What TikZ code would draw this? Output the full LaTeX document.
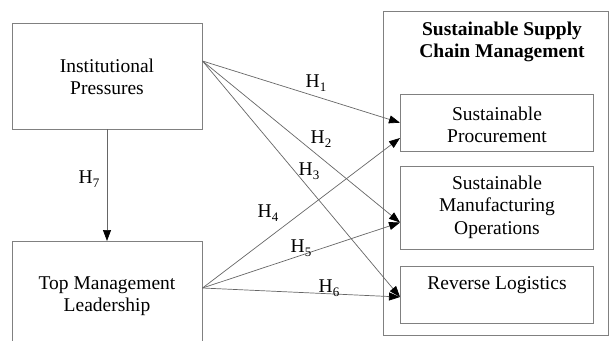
\documentclass[tikz,border=0pt]{standalone}
\usepackage{fontspec}
\setmainfont{Liberation Serif}
\usetikzlibrary{arrows.meta}
\newcommand{\hyp}[1]{H\raisebox{-4pt}{\fontsize{13}{13}\selectfont #1}}
\begin{document}
\begin{tikzpicture}[x=1pt,y=-1pt,
  box/.style={draw=black!50, line width=0.8pt, rectangle, inner sep=0pt},
  txt/.style={align=center, font=\fontsize{19.5}{22.5}\selectfont, inner sep=0pt},
  hl/.style={font=\fontsize{19.5}{22}\selectfont, inner sep=0pt},
  link/.style={draw=black!60, line width=0.7pt, -{Triangle[length=11pt,width=8pt,color=black]}}]
\useasboundingbox (0,0) rectangle (609,340);
\begin{scope}
\clip (0,0) rectangle (609,340);
% left boxes
\node[box, minimum width=190pt, minimum height=106pt] (ip) at (107,76) {};
\node[txt] (iptext) at (107,77) {Institutional\\Pressures};
\node[box, minimum width=190pt, minimum height=140pt, anchor=north] (tm) at (107,241) {};
\node[txt] (tmtext) at (107,296) {Top Management\\Leadership};
% outer SSCM box
\node[box, minimum width=225pt, minimum height=324pt] (sscm) at (495.5,173) {};
\node[txt, font=\fontsize{19.5}{22.5}\selectfont\bfseries] (title) at (502,42) {Sustainable Supply\\Chain Management};
% inner boxes
\node[box, minimum width=193pt, minimum height=57pt] (pp) at (496.5,122.5) {};
\node[txt] (pptext) at (497,125) {Sustainable\\Procurement};
\node[box, minimum width=193pt, minimum height=83pt] (mo) at (496.5,207.5) {};
\node[txt] (motext) at (497,207) {Sustainable\\Manufacturing\\Operations};
\node[box, minimum width=193pt, minimum height=57pt] (rl) at (496.5,294.5) {};
\node[txt] (rltext) at (497,285) {Reverse Logistics};
\end{scope}
% anchor coordinates
\coordinate (s1) at (202.5,61);
\coordinate (s2) at (202.5,288);
\coordinate (t1) at (400,122.7);
\coordinate (t4) at (400,138);
\coordinate (t2) at (400,222.5);
\coordinate (t3) at (400,297);
% arrows
\draw[link] (ip.south) -- (tm.north);
\draw[link] (s1) -- (t1);
\draw[link] (s1) -- (t2);
\draw[link] (s1) -- (t3);
\draw[link] (s2) -- (t4);
\draw[link] (s2) -- (t2);
\draw[link] (s2) -- (t3);
% labels
\node[hl] (h1) at (316,83) {\hyp{1}};
\node[hl] (h2) at (321,139) {\hyp{2}};
\node[hl] (h3) at (309,171) {\hyp{3}};
\node[hl] (h4) at (268,213) {\hyp{4}};
\node[hl] (h5) at (301,248) {\hyp{5}};
\node[hl] (h6) at (329,288) {\hyp{6}};
\node[hl] (h7) at (89,179) {\hyp{7}};
\end{tikzpicture}
\end{document}
